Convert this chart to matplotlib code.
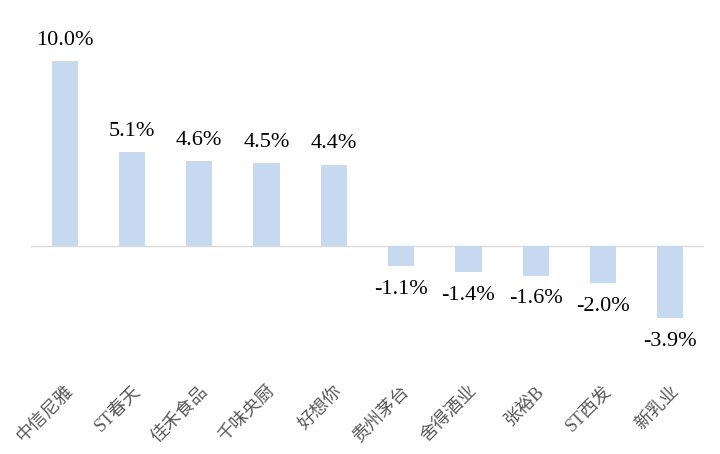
import numpy as np
import matplotlib.pyplot as plt

plt.rcParams['font.family'] = ['Liberation Serif', 'Noto Sans CJK SC']

# 数据
stocks = ['中信尼雅', 'ST春天', '佳禾食品', '千味央厨', '好想你',
          '贵州茅台', '舍得酒业', '张裕B', 'ST西发', '新乳业']
changes = [10.0, 5.1, 4.6, 4.5, 4.4, -1.1, -1.4, -1.6, -2.0, -3.9]

fig = plt.figure(figsize=(7.2, 4.54), dpi=100)
ax = fig.add_axes([31 / 720, 1 - 370 / 454, 673 / 720, 350 / 454])

x = np.arange(len(stocks))
ax.bar(x, changes, width=0.39, color='#c6d9f0', zorder=2)
ax.axhline(0, color='#d9d9d9', lw=1, zorder=1)

for xi, v in zip(x, changes):
    if v >= 0:
        ax.text(xi, v + 0.6, f'{v:.1f}%', ha='center', va='bottom', fontsize=16)
    else:
        ax.text(xi, v - 0.75, f'{v:.1f}%', ha='center', va='top', fontsize=16)

ax.set_xlim(-0.5, len(stocks) - 0.5)
# 零线在 y=246 像素处
ax.set_ylim(-(370 - 246) / 18.5, (246 - 20) / 18.5)
ax.set_xticks(x)
ax.set_xticklabels(stocks, rotation=45, ha='right', rotation_mode='anchor',
                   fontsize=13, color='#595959')
ax.tick_params(axis='x', length=0, pad=9)
ax.set_yticks([])
for s in ax.spines.values():
    s.set_visible(False)

fig.savefig('out.png', dpi=100)
